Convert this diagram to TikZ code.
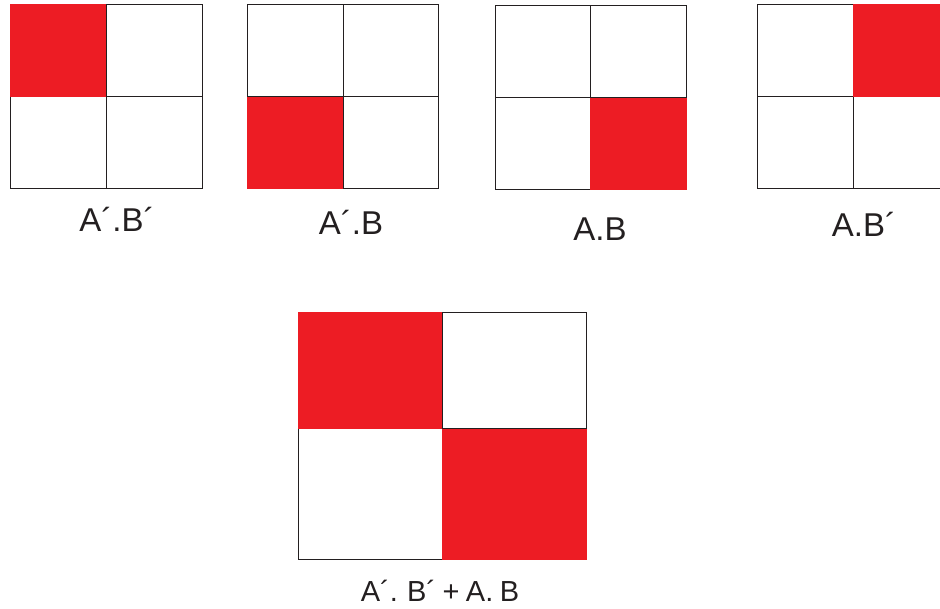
\documentclass[tikz,border=0pt]{standalone}
\usepackage{fontspec}
\setmainfont{Liberation Sans}
\definecolor{cellred}{HTML}{ED1C24}
\definecolor{gridline}{HTML}{231F20}
\begin{document}
\begin{tikzpicture}[x=1pt,y=-1pt,
  gridstyle/.style={draw=gridline,line width=1pt},
  redcell/.style={fill=cellred},
  lab/.style={anchor=base,inner sep=0pt,font=\fontsize{33}{38}\selectfont,text=gridline},
  biglab/.style={anchor=base,inner sep=0pt,font=\fontsize{29}{34}\selectfont,text=gridline}]
\useasboundingbox (0,0) rectangle (940,609);
\clip (0,0) rectangle (940,609);
% grid 1: A'.B'
\draw[gridstyle] (10,5) rectangle (202,189) (106,5) -- (106,189) (10,97) -- (202,97);
\fill[redcell] (9.5,4.5) rectangle (106,97);
\node[lab] (l1) at (117,232) {A´.B´};
% grid 2: A'.B
\draw[gridstyle] (247,5) rectangle (438,189) (343,5) -- (343,189) (247,97) -- (438,97);
\fill[redcell] (246.5,97) rectangle (343,189.5);
\node[lab] (l2) at (351,235) {A´.B};
% grid 3: A.B
\draw[gridstyle] (495,6) rectangle (686,190) (590,6) -- (590,190) (495,98) -- (686,98);
\fill[redcell] (590,98) rectangle (686.5,190.5);
\node[lab] (l3) at (600,241) {A.B};
% grid 4: A.B'
\draw[gridstyle] (757,5) rectangle (949,189) (853,5) -- (853,189) (757,97) -- (949,97);
\fill[redcell] (853,4.5) rectangle (949.5,97);
\node[lab] (l4) at (864,237) {A.B´};
% big grid
\draw[gridstyle] (298,313) rectangle (586,559) (442,313) -- (442,559) (298,429) -- (586,429);
\fill[redcell] (297.5,312.5) rectangle (442,429);
\fill[redcell] (442,429) rectangle (586.5,559.5);
\node[biglab] (l5) at (440,601) {\spaceskip=6.5pt A´. B´ + A. B};
\end{tikzpicture}
\end{document}
